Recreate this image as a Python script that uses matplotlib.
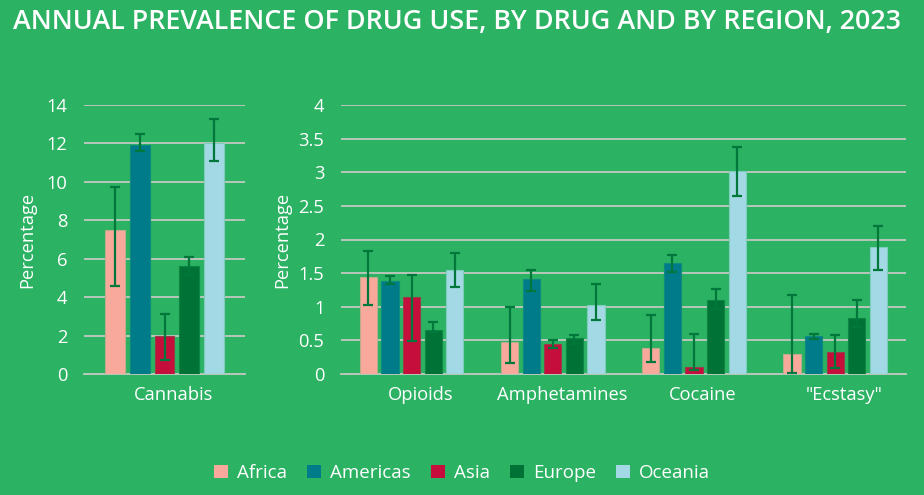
import matplotlib
matplotlib.use("Agg")
import matplotlib.pyplot as plt
import matplotlib.colors as mcolors
import matplotlib.transforms as mtransforms
from matplotlib.patches import Patch
import numpy as np

plt.rcParams['font.family'] = ['Open Sans', 'DejaVu Sans']

regions = ["Africa", "Americas", "Asia", "Europe", "Oceania"]
colors = ["#F8A99C", "#007B8A", "#C50E3C", "#007236", "#A2D9E4"]

left_cats = ["Cannabis"]
left_vals = {
    "Africa": [7.5], "Americas": [11.9], "Asia": [2.0], "Europe": [5.62], "Oceania": [12.0],
}
left_hi = {
    "Africa": [9.74], "Americas": [12.5], "Asia": [3.12], "Europe": [6.1], "Oceania": [13.27],
}
left_lo = {
    "Africa": [4.58], "Americas": [11.63], "Asia": [0.73], "Europe": [5.13], "Oceania": [11.1],
}

right_cats = ["Opioids", "Amphetamines", "Cocaine", "\"Ecstasy\""]
right_vals = {
    "Africa":   [1.44, 0.48, 0.38, 0.30],
    "Americas": [1.38, 1.41, 1.65, 0.56],
    "Asia":     [1.15, 0.44, 0.11, 0.32],
    "Europe":   [0.65, 0.53, 1.10, 0.83],
    "Oceania":  [1.55, 1.02, 3.02, 1.89],
}
right_hi = {
    "Africa":   [1.83, 1.00, 0.88, 1.18],
    "Americas": [1.46, 1.54, 1.77, 0.59],
    "Asia":     [1.47, 0.51, 0.59, 0.58],
    "Europe":   [0.77, 0.58, 1.27, 1.10],
    "Oceania":  [1.80, 1.34, 3.38, 2.20],
}
right_lo = {
    "Africa":   [1.02, 0.16, 0.18, 0.02],
    "Americas": [1.34, 1.24, 1.52, 0.52],
    "Asia":     [0.49, 0.39, 0.06, 0.09],
    "Europe":   [0.63, 0.44, 0.96, 0.70],
    "Oceania":  [1.29, 0.81, 2.64, 1.55],
}

left_ticks = [0, 2, 4, 6, 8, 10, 12, 14]
right_ticks = [0, 0.5, 1, 1.5, 2, 2.5, 3, 3.5, 4]
right_ticklabels = ["0", "0.5", "1", "1.5", "2", "2.5", "3", "3.5", "4"]

BG = "#2BB262"
GRID = "#B9C7BC"
ERR = "#00773B"
WHITE = "white"

def blend(c, bg, a):
    c1 = np.array(mcolors.to_rgb(c)); c2 = np.array(mcolors.to_rgb(bg))
    return tuple(c1 * (1 - a) + c2 * a)

fig = plt.figure(figsize=(9.24, 4.95), dpi=100, facecolor=BG)

ax1 = fig.add_axes([84/924, 1-374/495, (245-84)/924, 269/495])
ax2 = fig.add_axes([341/924, 1-374/495, (905.7-341)/924, 269/495])

step = 0.153
width = 0.122

def draw(ax, cats, vals, hi, lo, ymax, ticks, ticklabels):
    ax.set_facecolor(BG)
    x = np.arange(len(cats))
    for i, r in enumerate(regions):
        pos = x + (i - 2) * step
        v = np.array(vals[r]); h = np.array(hi[r]); l = np.array(lo[r])
        ax.bar(pos, v, width=width, color=colors[i],
               edgecolor=blend(colors[i], BG, 0.3), linewidth=0.8, zorder=3)
        ax.errorbar(pos, v, yerr=[v - l, h - v], fmt='none', ecolor=ERR,
                    elinewidth=1.6, capsize=3.6, capthick=1.6, zorder=4)
    ax.set_xlim(-0.5, len(cats) - 0.5)
    ax.set_ylim(0, ymax)
    ax.set_yticks(ticks)
    ax.set_yticklabels(ticklabels)
    ax.set_xticks(x)
    ax.set_xticklabels(cats)
    ax.yaxis.grid(True, color=GRID, linewidth=1.4, zorder=0)
    ax.set_axisbelow(True)
    for s in ["top", "right", "left"]:
        ax.spines[s].set_visible(False)
    ax.spines["bottom"].set_color(GRID)
    ax.spines["bottom"].set_linewidth(1.4)
    ax.tick_params(axis='both', length=0, colors=WHITE, labelsize=13.2)
    ax.tick_params(axis='y', pad=12)
    ax.tick_params(axis='x', pad=9)
    ax.set_ylabel("Percentage", color=WHITE, fontsize=13.2)
    off = mtransforms.ScaledTranslation(9/100, 0, fig.dpi_scale_trans)
    for lab in ax.get_xticklabels():
        lab.set_transform(lab.get_transform() + off)

draw(ax1, left_cats, left_vals, left_hi, left_lo, 14, left_ticks, [str(t) for t in left_ticks])
draw(ax2, right_cats, right_vals, right_hi, right_lo, 4, right_ticks, right_ticklabels)
ax1.yaxis.set_label_coords(-0.298, 0.5)
ax2.yaxis.set_label_coords(-0.0885, 0.5)

fig.text(13/924, 1-22/495, "ANNUAL PREVALENCE OF DRUG USE, BY DRUG AND BY REGION, 2023",
         color=WHITE, fontsize=19.4, fontweight='semibold', va='center', ha='left')

handles = [Patch(facecolor=c, edgecolor='none', label=r) for r, c in zip(regions, colors)]
leg = fig.legend(handles=handles, loc='center', bbox_to_anchor=(462/924, 1-473/495),
                 ncol=5, frameon=False, fontsize=13.5, labelcolor=WHITE,
                 handlelength=0.75, handleheight=0.75, handletextpad=0.45, columnspacing=1.1)

fig.savefig("out.png", dpi=100, facecolor=BG)
